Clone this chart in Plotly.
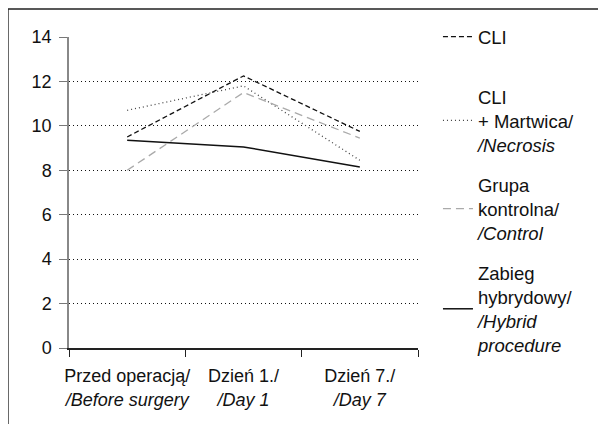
import plotly.graph_objects as go

categories = ["Przed operacją/<br><i>/Before surgery</i>",
              "Dzień 1./<br><i>/Day 1</i>",
              "Dzień 7./<br><i>/Day 7</i>"]

cli = [9.5, 12.25, 9.75]
cli_necrosis = [10.7, 11.8, 8.45]
control = [8.0, 11.5, 9.45]
hybrid = [9.35, 9.05, 8.15]

names = ["CLI",
         "CLI<br>+ Martwica/<br><i>/Necrosis</i>",
         "Grupa<br>kontrolna/<br><i>/Control</i>",
         "Zabieg<br>hybrydowy/<br><i>/Hybrid<br>procedure</i>"]

FONT = "Liberation Sans, Arial, sans-serif"

fig = go.Figure()
fig.add_trace(go.Scatter(x=categories, y=cli, name=names[0], mode="lines",
                         line=dict(color="#111", width=1.3, dash="5px,3px"),
                         legend="legend", legendgroup="a"))
fig.add_trace(go.Scatter(x=categories, y=cli_necrosis, name=names[1], mode="lines",
                         line=dict(color="#444", width=1.3, dash="1px,3px"),
                         legend="legend2", legendgroup="b"))
fig.add_trace(go.Scatter(x=categories, y=control, name=names[2], mode="lines",
                         line=dict(color="#aaa", width=1.3, dash="8px,5px"),
                         legend="legend2", legendgroup="c"))
fig.add_trace(go.Scatter(x=categories, y=hybrid, name=names[3], mode="lines",
                         line=dict(color="#111", width=1.5),
                         legend="legend2", legendgroup="d"))

# outer frame (open on the right and bottom in the source)
fig.add_shape(type="rect", xref="paper", yref="paper",
              x0=-0.175, x1=1.6, y0=-0.4, y1=1.09,
              line=dict(color="#222", width=1.5), layer="below")

# the page body adds an 8px margin, so the figure is sized to the visible area
fig.update_layout(
    width=598, height=416,
    margin=dict(l=61, r=188, t=29, b=76),
    paper_bgcolor="white", plot_bgcolor="white",
    font=dict(family=FONT, size=18, color="#111"),
    showlegend=True,
    legend=dict(x=0.719, y=0.930, xref="container", yref="container",
                xanchor="left", yanchor="middle",
                font=dict(size=18.5), bgcolor="rgba(0,0,0,0)"),
    legend2=dict(x=0.719, y=0.832, xref="container", yref="container",
                 xanchor="left", yanchor="top", tracegroupgap=13,
                 maxheight=400,
                 font=dict(size=18.5), bgcolor="rgba(0,0,0,0)"),
    xaxis=dict(type="category", range=[-0.5, 2.5], tickson="boundaries",
               ticks="outside", ticklen=7, tickcolor="#222", tickangle=0,
               ticklabelstandoff=11,
               showline=True, linecolor="#222", linewidth=1.5, automargin=False,
               showgrid=False, zeroline=False, tickfont=dict(size=18)),
    yaxis=dict(range=[0, 14], dtick=2, ticks="outside", ticklen=8,
               tickcolor="#777", showline=True, linecolor="#888", linewidth=1.5,
               ticklabelstandoff=4, automargin=False,
               showgrid=True, gridcolor="#111", griddash="1px,3px", gridwidth=1,
               zeroline=False, tickfont=dict(size=18)),
)

fig.write_html("out.html")
